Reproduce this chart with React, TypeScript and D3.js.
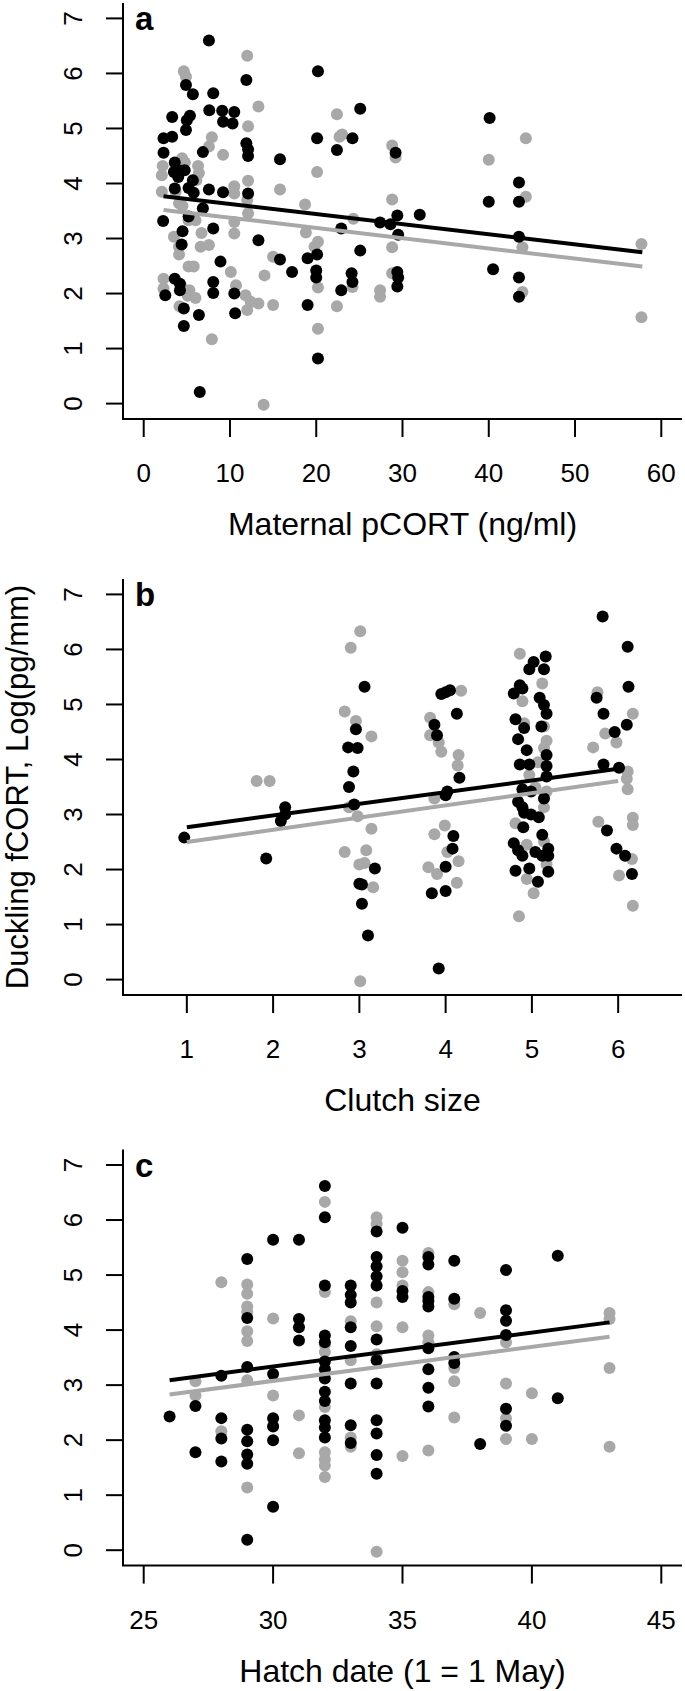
import React from 'react';
import * as d3 from 'd3';

// ---- data ----
const yTicks = [0, 1, 2, 3, 4, 5, 6, 7];

// panel a: maternal pCORT
const aTicks = [0, 10, 20, 30, 40, 50, 60];
const aBlackX = [7.56, 11.9, 4.9, 5.7, 8.06, 7.6, 9.1, 10.5, 9.2, 10.3, 5.0, 5.36, 3.3, 4.9, 2.3, 3.3, 2.3, 6.86, 11.9, 12.1, 12.1, 15.8, 20.1, 22.4, 24.2, 25.1, 20.2, 3.6, 3.5, 4.4, 4.0, 4.75, 5.7, 5.2, 5.8, 3.6, 7.56, 9.2, 12.1, 6.86, 2.25, 5.2, 4.5, 4.4, 8.06, 13.3, 15.8, 17.2, 19.0, 20.1, 22.9, 25.1, 20.0, 20.0, 24.1, 24.2, 22.9, 3.6, 4.2, 4.2, 2.5, 8.06, 8.06, 10.5, 4.65, 6.4, 10.6, 19.0, 4.65, 20.2, 6.5, 8.9, 27.4, 28.6, 29.2, 29.4, 29.5, 29.4, 29.5, 29.4, 32.0, 40.1, 40.0, 40.5, 43.5, 43.5, 43.5, 43.5, 43.5];
const aBlackY = [6.6, 5.88, 5.79, 5.62, 5.64, 5.33, 5.32, 5.3, 5.12, 5.09, 5.15, 5.23, 5.21, 4.97, 4.82, 4.85, 4.56, 4.57, 4.73, 4.62, 4.5, 4.44, 4.82, 4.61, 4.82, 5.36, 6.04, 4.38, 4.21, 4.23, 4.12, 4.24, 4.06, 3.92, 3.83, 3.91, 3.89, 3.84, 3.82, 3.55, 3.32, 3.4, 3.13, 2.89, 3.18, 2.97, 2.62, 2.39, 2.64, 2.71, 3.18, 2.78, 2.42, 2.29, 2.37, 2.21, 2.06, 2.27, 2.18, 2.06, 1.97, 2.21, 2.01, 2.0, 1.73, 1.61, 1.64, 1.79, 1.41, 0.82, 0.21, 2.58, 3.29, 3.26, 4.56, 3.42, 3.07, 2.39, 2.29, 2.13, 3.43, 5.19, 3.67, 2.44, 4.02, 3.67, 3.03, 2.29, 1.94];
const aGrayX = [12.0, 4.65, 4.9, 13.3, 22.4, 12.1, 7.9, 7.56, 9.2, 4.45, 4.77, 2.2, 2.1, 6.3, 6.4, 6.1, 12.1, 10.5, 20.1, 15.8, 2.1, 3.7, 4.1, 4.5, 10.5, 12.0, 12.1, 18.7, 10.5, 10.5, 5.2, 6.0, 3.5, 4.1, 6.7, 7.56, 6.6, 18.8, 20.2, 19.8, 5.2, 5.8, 15.0, 10.1, 14.0, 2.3, 2.3, 4.3, 5.3, 6.0, 10.7, 11.8, 12.4, 13.3, 12.0, 15.0, 20.2, 22.4, 24.2, 4.15, 7.9, 20.2, 13.9, 22.7, 23.0, 24.3, 28.8, 29.2, 28.8, 28.8, 28.8, 27.4, 27.4, 40.0, 44.3, 44.3, 43.9, 43.9, 57.7, 57.7, 4.1, 5.1];
const aGrayY = [6.32, 6.04, 5.94, 5.4, 5.26, 5.04, 4.84, 4.67, 4.52, 4.46, 4.38, 4.32, 4.15, 4.32, 4.19, 4.06, 4.05, 3.95, 4.21, 3.89, 3.85, 3.85, 3.64, 3.59, 3.82, 3.7, 3.46, 3.62, 3.3, 3.09, 3.33, 3.33, 3.03, 2.85, 3.1, 2.88, 2.85, 3.11, 2.94, 2.85, 2.49, 2.49, 2.67, 2.39, 2.33, 2.27, 2.09, 2.15, 2.06, 1.92, 2.15, 1.97, 1.85, 1.82, 1.7, 1.79, 2.11, 1.77, 2.12, 1.77, 1.17, 1.36, -0.02, 4.85, 4.89, 3.36, 4.69, 4.47, 3.71, 2.84, 2.37, 2.06, 1.94, 4.43, 4.82, 3.76, 2.84, 2.03, 2.9, 1.57, 2.71, 1.96];
const aLineX = [2.3, 57.8];
const aBlackLineY = [3.77, 2.75];
const aGrayLineY = [3.52, 2.49];

// panel b: clutch size (jittered)
const bTicks = [1, 2, 3, 4, 5, 6];
const bBlackX = [0.97, 1.92, 2.14, 2.14, 2.09, 3.06, 2.96, 2.87, 2.98, 2.93, 2.88, 2.94, 3.18, 3.0, 3.03, 3.03, 3.1, 3.92, 3.84, 4.0, 4.0, 4.09, 4.08, 4.0, 4.02, 4.16, 4.13, 3.87, 3.9, 3.95, 4.0, 4.05, 4.79, 4.86, 4.89, 4.97, 5.02, 5.16, 5.14, 5.09, 5.14, 5.17, 4.81, 4.91, 5.11, 4.84, 4.94, 5.17, 4.86, 4.97, 5.17, 5.17, 4.89, 4.99, 4.84, 4.89, 4.91, 4.99, 5.14, 5.08, 4.9, 5.12, 4.79, 4.84, 4.89, 5.04, 5.12, 5.19, 5.19, 4.81, 4.97, 5.19, 5.07, 5.82, 6.11, 6.12, 5.75, 5.83, 6.1, 5.96, 5.83, 6.01, 5.87, 5.98, 6.08, 6.16];
const bBlackY = [2.58, 2.2, 3.13, 3.0, 2.88, 5.32, 4.55, 4.22, 4.21, 3.78, 3.5, 3.18, 2.02, 1.74, 1.73, 1.38, 0.8, 0.2, 1.57, 1.61, 2.05, 2.61, 2.38, 3.35, 3.42, 3.67, 4.83, 4.63, 4.44, 5.19, 5.22, 5.26, 5.2, 5.35, 5.29, 5.64, 5.77, 5.87, 5.64, 5.12, 4.99, 4.83, 4.73, 4.57, 4.6, 4.37, 4.17, 4.08, 3.91, 3.91, 3.88, 3.69, 3.46, 3.42, 3.23, 3.13, 3.03, 3.0, 3.29, 2.95, 2.77, 2.63, 2.48, 2.35, 2.25, 2.32, 2.25, 2.38, 2.25, 1.98, 2.02, 1.96, 1.78, 6.6, 6.05, 5.32, 5.12, 4.83, 4.63, 4.5, 3.91, 3.85, 2.71, 2.38, 2.25, 1.92];
const bGrayX = [1.81, 1.96, 3.01, 2.9, 2.83, 3.14, 2.96, 2.88, 2.98, 3.14, 2.83, 3.08, 3.0, 3.06, 3.16, 3.01, 3.82, 3.82, 3.92, 3.95, 4.18, 4.15, 4.14, 3.87, 3.87, 3.99, 3.8, 3.9, 4.13, 4.15, 4.02, 4.86, 5.12, 4.89, 5.14, 4.91, 5.14, 4.97, 5.07, 5.17, 5.14, 4.81, 4.94, 5.14, 5.17, 4.94, 5.02, 4.85, 5.04, 5.17, 5.76, 5.71, 5.85, 5.98, 6.17, 6.11, 6.1, 6.11, 6.17, 6.17, 5.77, 6.16, 6.01, 6.17];
const bGrayY = [3.61, 3.61, 6.33, 6.03, 4.87, 4.42, 4.7, 3.13, 2.97, 2.74, 2.32, 2.35, 2.09, 2.12, 1.68, -0.03, 4.76, 4.44, 4.31, 4.14, 5.25, 4.08, 3.89, 3.29, 2.64, 2.8, 2.04, 1.92, 1.76, 2.15, 2.32, 5.92, 5.38, 5.06, 4.6, 4.66, 4.21, 3.72, 3.95, 3.42, 3.13, 2.84, 2.45, 2.51, 2.09, 1.83, 1.57, 1.15, 3.49, 4.34, 5.22, 4.22, 4.47, 4.31, 4.83, 3.78, 3.65, 3.46, 2.94, 2.81, 2.87, 2.19, 1.89, 1.34];
const bLineX = [1, 6];
const bBlackLineY = [2.77, 3.83];
const bGrayLineY = [2.5, 3.61];

// panel c: hatch date
const cTicks = [25, 30, 35, 40, 45];
const cBlackX = [26, 27, 27, 28, 28, 28, 28, 29, 29, 29, 29, 29, 29, 29, 29, 30, 30, 30, 30, 30, 30, 31, 31, 31, 31, 32, 32, 32, 32, 32, 32, 32, 32, 32, 32, 32, 32, 32, 33, 33, 33, 33, 33, 33, 33, 33, 34, 34, 34, 34, 34, 34, 34, 34, 34, 34, 34, 34, 35, 35, 35, 36, 36, 36, 36, 36, 36, 36, 36, 36, 37, 37, 37, 37, 38, 39, 39, 39, 39, 39, 39, 41, 41];
const cBlackY = [2.43, 2.62, 1.78, 3.17, 2.4, 2.03, 1.61, 5.29, 4.22, 3.33, 2.19, 1.98, 1.74, 1.57, 0.19, 5.64, 3.2, 2.4, 2.25, 2.0, 0.79, 5.64, 4.2, 4.05, 3.81, 6.62, 6.05, 4.81, 3.9, 3.78, 3.43, 3.29, 3.12, 2.88, 2.71, 2.36, 2.23, 2.05, 4.81, 4.64, 4.5, 4.05, 3.71, 3.03, 2.27, 1.95, 5.79, 5.33, 5.16, 4.98, 4.81, 3.83, 3.45, 3.03, 2.36, 2.12, 1.73, 1.39, 5.86, 4.71, 4.6, 5.33, 5.19, 4.6, 4.53, 4.43, 3.67, 3.29, 2.95, 2.61, 5.26, 4.57, 3.51, 3.4, 1.93, 5.09, 4.36, 4.17, 3.91, 2.57, 2.26, 5.35, 2.76];
const cGrayX = [27, 27, 28, 28, 29, 29, 29, 29, 29, 29, 29, 29, 30, 30, 30, 31, 31, 32, 32, 32, 32, 32, 32, 32, 32, 32, 33, 33, 33, 33, 34, 34, 34, 34, 34, 34, 35, 35, 35, 35, 35, 36, 36, 36, 36, 36, 37, 37, 37, 37, 38, 39, 39, 39, 39, 40, 40, 43, 43, 43, 43];
const cGrayY = [3.07, 2.81, 4.87, 2.16, 4.83, 4.66, 4.43, 4.33, 3.98, 3.8, 3.09, 1.14, 4.21, 2.81, 2.26, 2.45, 1.76, 6.33, 4.69, 3.74, 3.6, 2.6, 1.78, 1.65, 1.54, 1.33, 4.16, 3.45, 2.05, 1.88, 6.05, 5.93, 4.5, 4.07, 3.56, -0.03, 5.26, 5.05, 4.81, 4.05, 1.71, 5.4, 4.69, 3.9, 3.78, 1.81, 4.47, 3.31, 3.07, 2.41, 4.31, 3.78, 3.03, 2.4, 2.02, 2.85, 2.02, 4.31, 4.2, 3.31, 1.88];
const cLineX = [26, 43];
const cBlackLineY = [3.09, 4.14];
const cGrayLineY = [2.83, 3.88];

const GRAY = '#a8a8a8';
const FONT = '"Liberation Sans", Arial, Helvetica, sans-serif';

type PanelProps = {
  letter: string;
  top: number;
  xlim: [number, number];
  ticks: number[];
  title: string;
  blackX: number[];
  blackY: number[];
  grayX: number[];
  grayY: number[];
  lineX: number[];
  blackLineY: number[];
  grayLineY: number[];
  yTitle?: string;
};

function Panel(p: PanelProps) {
  const left = 123;
  const right = 682;
  const bottom = p.top + 416;
  // R style: xlim widened by 4% on each side
  const pad = (p.xlim[1] - p.xlim[0]) * 0.04;
  const x = d3.scaleLinear().domain([p.xlim[0] - pad, p.xlim[1] + pad]).range([left, right]);
  const y = d3.scaleLinear().domain([-0.28, 7.28]).range([bottom, p.top]);
  const line = d3.line<[number, number]>().x(d => x(d[0])).y(d => y(d[1]));
  const blackLine = p.lineX.map((v, i) => [v, p.blackLineY[i]] as [number, number]);
  const grayLine = p.lineX.map((v, i) => [v, p.grayLineY[i]] as [number, number]);

  return (
    <g>
      {/* points: grey first, black on top */}
      {p.grayX.map((v, i) => (
        <circle key={'g' + i} cx={x(v)} cy={y(p.grayY[i])} r={6} fill={GRAY} />
      ))}
      {p.blackX.map((v, i) => (
        <circle key={'b' + i} cx={x(v)} cy={y(p.blackY[i])} r={6} fill="#000" />
      ))}
      <path d={line(grayLine) || ''} stroke={GRAY} strokeWidth={4} fill="none" />
      <path d={line(blackLine) || ''} stroke="#000" strokeWidth={4} fill="none" />

      {/* L-shaped box */}
      <path d={`M${left},${p.top}V${bottom}H${right}`} stroke="#000" strokeWidth={2} fill="none" />

      {/* y axis */}
      {yTicks.map(t => (
        <g key={'yt' + t}>
          <line x1={left - 17} x2={left} y1={y(t)} y2={y(t)} stroke="#000" strokeWidth={2} />
          <text
            transform={`translate(82,${y(t)}) rotate(-90)`}
            textAnchor="middle"
            fontSize={26}
            fontFamily={FONT}
          >
            {t}
          </text>
        </g>
      ))}

      {/* x axis */}
      {p.ticks.map(t => (
        <g key={'xt' + t}>
          <line x1={x(t)} x2={x(t)} y1={bottom} y2={bottom + 18} stroke="#000" strokeWidth={2} />
          <text x={x(t)} y={bottom + 63} textAnchor="middle" fontSize={26} fontFamily={FONT}>
            {t}
          </text>
        </g>
      ))}

      <text x={(left + right) / 2} y={bottom + 116} textAnchor="middle" fontSize={32} fontFamily={FONT}>
        {p.title}
      </text>

      {p.yTitle && (
        <text
          transform={`translate(28,${(p.top + bottom) / 2}) rotate(-90)`}
          textAnchor="middle"
          fontSize={31}
          fontFamily={FONT}
        >
          {p.yTitle}
        </text>
      )}

      <text x={135} y={p.top + 27} fontSize={33} fontWeight="bold" fontFamily={FONT}>
        {p.letter}
      </text>
    </g>
  );
}

export default function App() {
  return (
    <div style={{ position: 'absolute', left: 0, top: 0 }}>
      <svg width={685} height={1691} style={{ display: 'block', background: '#fff' }}>
        <Panel
          letter="a"
          top={3}
          xlim={[0, 60]}
          ticks={aTicks}
          title="Maternal pCORT (ng/ml)"
          blackX={aBlackX}
          blackY={aBlackY}
          grayX={aGrayX}
          grayY={aGrayY}
          lineX={aLineX}
          blackLineY={aBlackLineY}
          grayLineY={aGrayLineY}
        />
        <Panel
          letter="b"
          top={579}
          xlim={[0.5, 6.5]}
          ticks={bTicks}
          title="Clutch size"
          blackX={bBlackX}
          blackY={bBlackY}
          grayX={bGrayX}
          grayY={bGrayY}
          lineX={bLineX}
          blackLineY={bBlackLineY}
          grayLineY={bGrayLineY}
          yTitle="Duckling fCORT, Log(pg/mm)"
        />
        <Panel
          letter="c"
          top={1149.6}
          xlim={[25, 45]}
          ticks={cTicks}
          title="Hatch date (1 = 1 May)"
          blackX={cBlackX}
          blackY={cBlackY}
          grayX={cGrayX}
          grayY={cGrayY}
          lineX={cLineX}
          blackLineY={cBlackLineY}
          grayLineY={cGrayLineY}
        />
      </svg>
    </div>
  );
}
